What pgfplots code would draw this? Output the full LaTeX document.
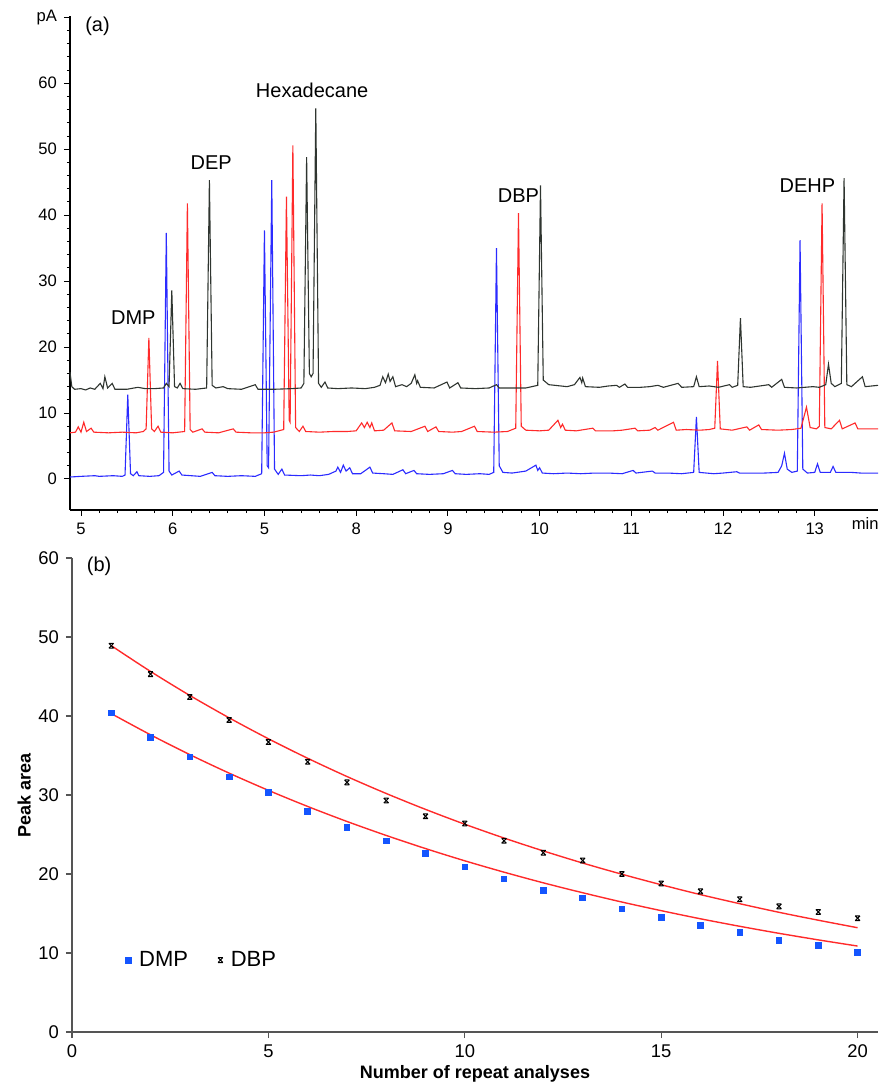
\documentclass[border=0pt]{standalone}
\usepackage{fontspec}
\setmainfont{Liberation Sans}
\usepackage{pgfplots}
\pgfplotsset{compat=1.18}

\definecolor{trblack}{HTML}{2F3530}
\definecolor{trred}{HTML}{FF2A2A}
\definecolor{trblue}{HTML}{2B2BFF}
\definecolor{sqblue}{RGB}{20,85,255}
\definecolor{axgray}{HTML}{555555}

% x-shaped mark closed by short bars, as used for DBP
\pgfdeclareplotmark{hglass}{%
  \pgfpathmoveto{\pgfqpoint{-\pgfplotmarksize}{\pgfplotmarksize}}%
  \pgfpathlineto{\pgfqpoint{\pgfplotmarksize}{-\pgfplotmarksize}}%
  \pgfpathmoveto{\pgfqpoint{-\pgfplotmarksize}{-\pgfplotmarksize}}%
  \pgfpathlineto{\pgfqpoint{\pgfplotmarksize}{\pgfplotmarksize}}%
  \pgfpathmoveto{\pgfqpoint{-\pgfplotmarksize}{\pgfplotmarksize}}%
  \pgfpathlineto{\pgfqpoint{\pgfplotmarksize}{\pgfplotmarksize}}%
  \pgfpathmoveto{\pgfqpoint{-\pgfplotmarksize}{-\pgfplotmarksize}}%
  \pgfpathlineto{\pgfqpoint{\pgfplotmarksize}{-\pgfplotmarksize}}%
  \pgfusepathqstroke}

\begin{document}
\begin{tikzpicture}
\path[use as bounding box] (-35pt,-26.5pt) rectangle (405pt,516pt);

% ---------------- (a) chromatograms ----------------
\begin{axis}[
    at={(0pt,261pt)}, anchor=south west,
    scale only axis, width=404pt, height=247pt,
    xmin=4.88, xmax=13.69,
    ymin=-4.7, ymax=70.2,
    axis lines=left,
    axis line style={-, black, line width=0.6pt},
    tick style={black, line width=0.5pt},
    tick align=outside,
    major tick length=3pt, minor tick length=1.6pt,
    xtick={5,...,13},
    xticklabels={5,6,5,8,9,10,11,12,13},
    minor x tick num=4,
    extra x ticks={13.55},
    extra x tick labels={min},
    extra x tick style={major tick length=0pt},
    ytick={0,10,...,70},
    yticklabels={0,10,20,30,40,50,60,pA},
    minor y tick num=4,
    tick label style={font=\fontsize{8.3}{9}\selectfont},
    /pgf/number format/assume math mode=true,
    clip=false,
]
% blue run
\addplot[trblue, line width=0.55pt, mark=none] coordinates {
(4.88,0.3) (5.0,0.4) (5.15,0.5) (5.2,0.4) (5.35,0.5) (5.45,0.4) (5.48,0.6)
(5.51,12.8) (5.54,0.8) (5.57,0.5) (5.61,1.1) (5.63,0.5) (5.75,0.4) (5.85,0.5)
(5.90,1.0) (5.93,37.3) (5.96,1.2) (5.99,0.6) (6.07,1.2) (6.10,0.6) (6.2,0.5)
(6.3,0.4) (6.43,1.0) (6.46,0.5) (6.6,0.4) (6.75,0.5) (6.9,0.4) (6.97,0.8)
(7.0,37.7) (7.03,2.0) (7.045,1.7) (7.08,45.3) (7.11,1.5) (7.15,0.7) (7.19,1.5)
(7.22,0.6) (7.4,0.5) (7.5,0.6) (7.6,0.5) (7.7,0.7) (7.78,1.2) (7.8,1.8)
(7.83,1.0) (7.86,2.1) (7.89,1.2) (7.93,1.7) (7.96,0.8) (8.05,0.8) (8.15,1.8)
(8.18,0.9) (8.3,0.8) (8.4,0.7) (8.51,1.4) (8.54,0.8) (8.63,1.3) (8.66,0.8)
(8.8,0.7) (8.95,0.8) (9.05,1.3) (9.08,0.8) (9.2,0.7) (9.35,0.8) (9.45,0.7)
(9.5,1.0) (9.53,35.0) (9.56,2.0) (9.6,1.0) (9.7,0.9) (9.85,1.2) (9.96,2.1)
(9.98,1.3) (10.0,1.7) (10.03,0.9) (10.15,0.8) (10.3,0.9) (10.45,0.8) (10.6,0.9)
(10.75,0.9) (10.9,0.8) (11.02,1.3) (11.05,0.9) (11.23,1.2) (11.26,0.9) (11.4,0.9)
(11.55,0.8) (11.68,1.0) (11.71,9.4) (11.74,1.0) (11.9,0.8) (12.0,0.9) (12.15,1.1)
(12.18,0.9) (12.3,0.9) (12.45,0.9) (12.6,1.0) (12.64,2.0) (12.67,3.9) (12.70,1.5)
(12.75,1.0) (12.81,1.2) (12.84,36.2) (12.87,1.5) (12.92,0.9) (13.0,1.0) (13.03,2.3)
(13.06,1.0) (13.17,1.0) (13.2,1.9) (13.23,1.0) (13.4,1.0) (13.5,0.9) (13.69,0.9)
};
% red run
\addplot[trred, line width=0.55pt, mark=none] coordinates {
(4.88,7.0) (4.94,7.1) (4.97,7.9) (5.0,7.1) (5.03,8.6) (5.06,7.2) (5.11,7.7)
(5.14,7.1) (5.3,7.0) (5.45,7.1) (5.6,7.0) (5.68,7.2) (5.71,7.6) (5.74,21.4)
(5.77,7.6) (5.80,7.2) (5.84,8.0) (5.87,7.1) (6.0,7.0) (6.13,7.2) (6.16,41.8)
(6.19,7.5) (6.22,7.1) (6.32,7.6) (6.35,7.1) (6.5,7.0) (6.66,7.6) (6.69,7.1)
(6.85,7.0) (7.0,7.0) (7.1,7.1) (7.21,7.5) (7.24,42.8) (7.27,8.9) (7.28,8.6)
(7.31,50.6) (7.34,7.8) (7.38,7.2) (7.42,8.0) (7.45,7.2) (7.6,7.1) (7.75,7.2)
(7.9,7.2) (8.0,7.3) (8.06,8.5) (8.09,7.8) (8.12,8.6) (8.15,7.8) (8.17,8.5)
(8.2,7.3) (8.3,7.4) (8.39,8.5) (8.42,7.3) (8.6,7.2) (8.75,8.0) (8.78,7.2)
(8.87,7.9) (8.9,7.2) (9.05,7.1) (9.15,7.2) (9.29,8.0) (9.32,7.2) (9.5,7.1)
(9.65,7.2) (9.74,7.7) (9.77,40.3) (9.80,8.0) (9.85,7.4) (10.0,7.3) (10.1,7.4)
(10.2,8.9) (10.23,7.8) (10.25,8.3) (10.28,7.4) (10.4,7.3) (10.58,7.7) (10.61,7.3)
(10.8,7.3) (10.9,7.4) (11.04,7.7) (11.07,7.3) (11.2,7.4) (11.26,7.8) (11.29,7.4)
(11.46,8.6) (11.49,7.4) (11.6,7.5) (11.75,7.4) (11.85,7.5) (11.91,7.7) (11.94,17.9)
(11.97,7.6) (12.1,7.4) (12.26,7.9) (12.29,7.4) (12.39,8.2) (12.42,7.5) (12.6,7.4)
(12.75,7.5) (12.85,7.7) (12.91,10.9) (12.95,7.8) (13.02,7.6) (13.05,8.0) (13.08,41.8)
(13.11,7.8) (13.18,7.6) (13.27,8.9) (13.30,7.6) (13.44,8.5) (13.47,7.6) (13.6,7.6)
(13.69,7.6)
};
% black run
\addplot[trblack, line width=0.55pt, mark=none] coordinates {
(4.88,16.2) (4.9,14.0) (4.93,13.6) (5.0,13.7) (5.05,13.5) (5.1,13.8) (5.15,13.6)
(5.21,14.5) (5.24,13.7) (5.26,15.5) (5.29,13.8) (5.34,14.5) (5.37,13.6) (5.5,13.6)
(5.62,13.9) (5.7,13.7) (5.8,13.7) (5.9,13.8) (5.93,14.5) (5.96,14.0) (5.99,28.6)
(6.02,14.0) (6.05,13.8) (6.08,14.5) (6.11,13.7) (6.25,13.6) (6.37,13.8) (6.4,45.3)
(6.43,14.2) (6.47,13.8) (6.55,14.0) (6.6,13.7) (6.75,13.6) (6.9,14.3) (6.93,13.6)
(7.1,13.6) (7.3,13.7) (7.4,13.8) (7.43,14.5) (7.46,48.8) (7.49,16.0) (7.51,15.5)
(7.53,16.0) (7.56,56.2) (7.59,14.5) (7.62,13.9) (7.66,14.7) (7.69,13.8) (7.8,13.7)
(7.95,13.8) (8.1,13.7) (8.2,13.9) (8.26,14.2) (8.29,15.5) (8.32,14.6) (8.35,15.9)
(8.37,14.8) (8.4,15.5) (8.43,14.0) (8.5,14.3) (8.55,14.0) (8.6,14.5) (8.64,15.8)
(8.66,14.5) (8.67,14.9) (8.7,13.9) (8.85,13.8) (8.99,14.7) (9.02,13.8) (9.11,14.6)
(9.14,13.8) (9.3,13.7) (9.45,13.8) (9.53,14.3) (9.56,13.8) (9.7,13.8) (9.85,13.8)
(9.98,14.2) (10.01,44.5) (10.04,15.0) (10.1,14.3) (10.3,14.0) (10.38,14.3) (10.44,15.4)
(10.46,14.6) (10.47,15.3) (10.5,14.0) (10.65,13.9) (10.75,14.1) (10.84,14.2) (10.87,13.9)
(10.93,14.4) (10.96,13.9) (11.1,13.9) (11.2,14.0) (11.29,14.2) (11.35,13.9) (11.51,14.5)
(11.55,13.9) (11.68,14.0) (11.71,15.5) (11.74,14.0) (11.85,14.1) (11.95,13.9) (12.07,14.3)
(12.1,13.9) (12.16,14.2) (12.19,24.4) (12.22,14.0) (12.3,13.9) (12.5,14.3) (12.53,13.9)
(12.64,15.1) (12.67,13.9) (12.8,13.8) (12.98,14.0) (13.05,13.9) (13.12,14.3) (13.15,17.4)
(13.18,14.5) (13.22,14.0) (13.29,14.5) (13.32,45.6) (13.35,14.3) (13.40,14.0) (13.52,15.5)
(13.55,14.0) (13.69,14.2)
};
\node[anchor=west, font=\fontsize{10}{12}\selectfont] at (axis cs:4.97,68.6) {(a)};
\begin{scope}[every node/.style={font=\fontsize{10}{12}\selectfont}]
\node at (axis cs:5.57,24.5) {DMP};
\node at (axis cs:6.42,48.0) {DEP};
\node at (axis cs:7.52,59.0) {Hexadecane};
\node at (axis cs:9.77,43.0) {DBP};
\node at (axis cs:12.92,44.5) {DEHP};
\end{scope}
\end{axis}

% ---------------- (b) peak area vs repeat ----------------
\begin{axis}[
    at={(1pt,0pt)}, anchor=south west,
    scale only axis, width=403pt, height=237pt,
    xmin=0, xmax=20.52,
    ymin=0, ymax=60,
    axis lines=left,
    axis line style={-, axgray, line width=0.8pt},
    tick style={axgray, line width=0.6pt},
    tick align=outside,
    major tick length=3pt,
    xtick={0,5,...,20},
    ytick={0,10,...,60},
    tick label style={font=\fontsize{9.2}{10}\selectfont},
    /pgf/number format/assume math mode=true,
    xlabel={\textbf{Number of repeat analyses}},
    ylabel={\textbf{Peak area}},
    label style={font=\fontsize{9}{11}\selectfont},
    xlabel style={yshift=3pt},
    ylabel style={yshift=-3pt},
    legend style={at={(axis cs:1.2,9.1)}, anchor=west, draw=none, fill=none,
                  font=\fontsize{11}{12}\selectfont,
                  /tikz/every odd column/.append style={column sep=2pt},
                  /tikz/every even column/.append style={column sep=13pt}},
    legend columns=2,
    legend cell align=left,
    clip=false,
]
\addplot[only marks, mark=square*, mark size=1.4pt, color=sqblue] coordinates {
(1,40.4) (2,37.3) (3,34.8) (4,32.3) (5,30.3) (6,27.9) (7,25.9) (8,24.2) (9,22.6) (10,20.9)
(11,19.4) (12,17.9) (13,17.0) (14,15.6) (15,14.5) (16,13.5) (17,12.6) (18,11.6) (19,11.0) (20,10.1)
};
\addlegendentry{DMP}
\addplot[only marks, mark=hglass, mark size=1.2pt, color=black, line width=0.5pt] coordinates {
(1,48.9) (2,45.3) (3,42.4) (4,39.5) (5,36.7) (6,34.2) (7,31.6) (8,29.3) (9,27.3) (10,26.4)
(11,24.2) (12,22.7) (13,21.7) (14,20.0) (15,18.8) (16,17.8) (17,16.8) (18,15.9) (19,15.2) (20,14.4)
};
\addlegendentry{DBP}
\addplot[trred, line width=0.7pt, smooth, forget plot] coordinates {
(1,40.3) (2,37.62) (3,35.11) (4,32.77) (5,30.59) (6,28.55) (7,26.65) (8,24.88) (9,23.22) (10,21.67)
(11,20.23) (12,18.88) (13,17.63) (14,16.45) (15,15.36) (16,14.33) (17,13.38) (18,12.49) (19,11.66) (20,10.88)
};
\addplot[trred, line width=0.7pt, smooth, forget plot] coordinates {
(1,48.9) (2,45.64) (3,42.60) (4,39.77) (5,37.12) (6,34.65) (7,32.34) (8,30.19) (9,28.18) (10,26.30)
(11,24.55) (12,22.92) (13,21.39) (14,19.97) (15,18.64) (16,17.39) (17,16.24) (18,15.15) (19,14.15) (20,13.20)
};
\node[anchor=west, font=\fontsize{10}{12}\selectfont] at (axis cs:0.2,58.9) {(b)};
\end{axis}
\end{tikzpicture}
\end{document}
